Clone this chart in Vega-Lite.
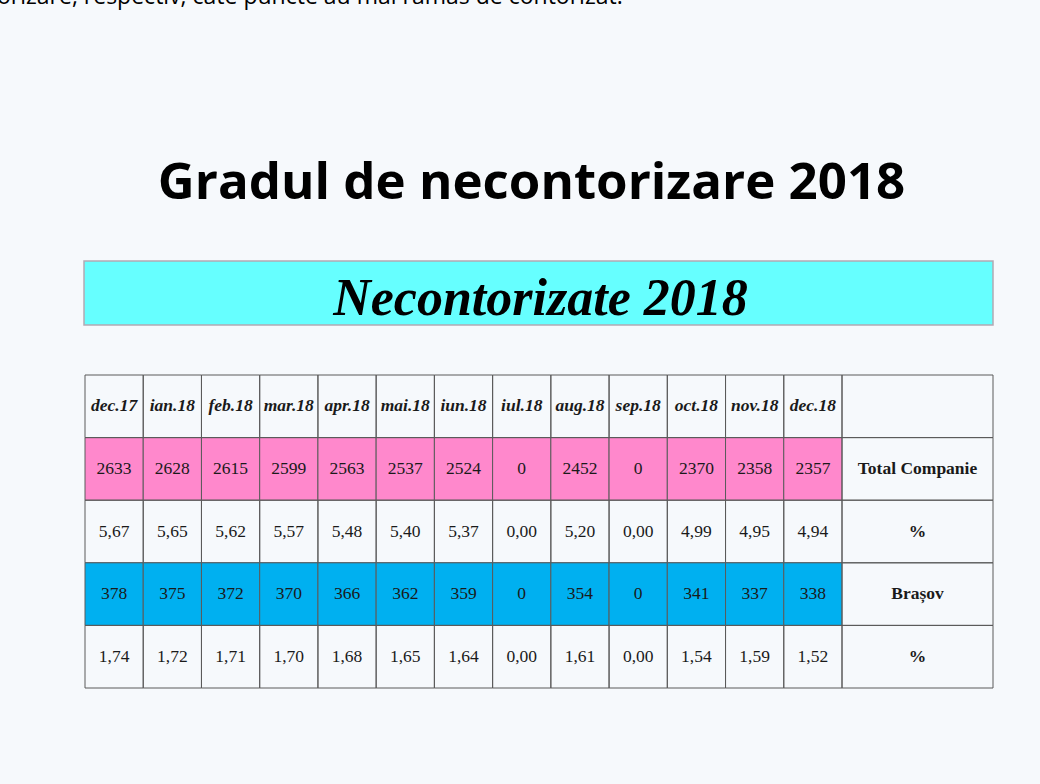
{
  "$schema": "https://vega.github.io/schema/vega-lite/v6.json",
  "width": 1040,
  "height": 784,
  "padding": 0,
  "autosize": {"type": "none"},
  "background": "#f6f9fc",
  "config": {
    "view": {"stroke": null},
    "locale": {"number": {"decimal": ",", "thousands": ".", "grouping": [3], "currency": ["", ""]}}
  },
  "datasets": {
    "luni": [
      {"luna": "dec.17", "Total": 2633, "Pct1": 5.67, "Brasov": 378, "Pct2": 1.74},
      {"luna": "ian.18", "Total": 2628, "Pct1": 5.65, "Brasov": 375, "Pct2": 1.72},
      {"luna": "feb.18", "Total": 2615, "Pct1": 5.62, "Brasov": 372, "Pct2": 1.71},
      {"luna": "mar.18", "Total": 2599, "Pct1": 5.57, "Brasov": 370, "Pct2": 1.70},
      {"luna": "apr.18", "Total": 2563, "Pct1": 5.48, "Brasov": 366, "Pct2": 1.68},
      {"luna": "mai.18", "Total": 2537, "Pct1": 5.40, "Brasov": 362, "Pct2": 1.65},
      {"luna": "iun.18", "Total": 2524, "Pct1": 5.37, "Brasov": 359, "Pct2": 1.64},
      {"luna": "iul.18", "Total": 0, "Pct1": 0.00, "Brasov": 0, "Pct2": 0.00},
      {"luna": "aug.18", "Total": 2452, "Pct1": 5.20, "Brasov": 354, "Pct2": 1.61},
      {"luna": "sep.18", "Total": 0, "Pct1": 0.00, "Brasov": 0, "Pct2": 0.00},
      {"luna": "oct.18", "Total": 2370, "Pct1": 4.99, "Brasov": 341, "Pct2": 1.54},
      {"luna": "nov.18", "Total": 2358, "Pct1": 4.95, "Brasov": 337, "Pct2": 1.59},
      {"luna": "dec.18", "Total": 2357, "Pct1": 4.94, "Brasov": 338, "Pct2": 1.52}
    ],
    "etichete": [
      {"rand": "header", "eticheta": ""},
      {"rand": "Total", "eticheta": "Total Companie"},
      {"rand": "Pct1", "eticheta": "%"},
      {"rand": "Brasov", "eticheta": "Brașov"},
      {"rand": "Pct2", "eticheta": "%"}
    ],
    "texte": [
      {"rol": "caption", "text": "orizare, respectiv, câte puncte au mai rămas de contorizat."},
      {"rol": "titlu", "text": "Gradul de necontorizare 2018"},
      {"rol": "banner", "text": "Necontorizate 2018"}
    ]
  },
  "resolve": {"scale": {"x": "independent", "y": "independent", "fill": "independent"}},
  "layer": [
    {
      "data": {"name": "luni"},
      "transform": [{"fold": ["Total", "Pct1", "Brasov", "Pct2"], "as": ["rand", "valoare"]}],
      "mark": {"type": "rect", "stroke": "#5a5a5a", "strokeWidth": 1},
      "encoding": {
        "x": {"field": "luna", "type": "nominal", "sort": null, "axis": null,
              "scale": {"type": "band", "domain": ["dec.17","ian.18","feb.18","mar.18","apr.18","mai.18","iun.18","iul.18","aug.18","sep.18","oct.18","nov.18","dec.18"], "range": [85, 842], "paddingInner": 0, "paddingOuter": 0}},
        "y": {"field": "rand", "type": "nominal", "axis": null,
              "scale": {"type": "band", "domain": ["header","Total","Pct1","Brasov","Pct2"], "range": [375, 688], "paddingInner": 0, "paddingOuter": 0}},
        "fill": {"field": "rand", "type": "nominal", "legend": null,
                 "scale": {"domain": ["Total","Pct1","Brasov","Pct2"], "range": ["#ff88cc","transparent","#00b0f0","transparent"]}}
      }
    },
    {
      "data": {"name": "luni"},
      "mark": {"type": "rect", "fill": "transparent", "stroke": "#5a5a5a", "strokeWidth": 1},
      "encoding": {
        "x": {"field": "luna", "type": "nominal", "sort": null, "axis": null,
              "scale": {"type": "band", "domain": ["dec.17","ian.18","feb.18","mar.18","apr.18","mai.18","iun.18","iul.18","aug.18","sep.18","oct.18","nov.18","dec.18"], "range": [85, 842], "paddingInner": 0, "paddingOuter": 0}},
        "y": {"datum": "header", "type": "nominal", "axis": null,
              "scale": {"type": "band", "domain": ["header","Total","Pct1","Brasov","Pct2"], "range": [375, 688], "paddingInner": 0, "paddingOuter": 0}}
      }
    },
    {
      "data": {"name": "luni"},
      "mark": {"type": "text", "font": "Liberation Serif", "fontStyle": "italic", "fontWeight": "bold", "fontSize": 17.5, "color": "#1a1a1a", "baseline": "middle", "align": "center"},
      "encoding": {
        "x": {"field": "luna", "type": "nominal", "sort": null, "axis": null,
              "scale": {"type": "band", "domain": ["dec.17","ian.18","feb.18","mar.18","apr.18","mai.18","iun.18","iul.18","aug.18","sep.18","oct.18","nov.18","dec.18"], "range": [85, 842], "paddingInner": 0, "paddingOuter": 0}},
        "y": {"datum": "header", "type": "nominal", "axis": null,
              "scale": {"type": "band", "domain": ["header","Total","Pct1","Brasov","Pct2"], "range": [375, 688], "paddingInner": 0, "paddingOuter": 0}},
        "text": {"field": "luna", "type": "nominal"}
      }
    },
    {
      "data": {"name": "luni"},
      "transform": [
        {"fold": ["Total", "Brasov"], "as": ["rand", "valoare"]}
      ],
      "mark": {"type": "text", "font": "Liberation Serif", "fontSize": 17.5, "color": "#1a1a1a", "baseline": "middle", "align": "center"},
      "encoding": {
        "x": {"field": "luna", "type": "nominal", "sort": null, "axis": null,
              "scale": {"type": "band", "domain": ["dec.17","ian.18","feb.18","mar.18","apr.18","mai.18","iun.18","iul.18","aug.18","sep.18","oct.18","nov.18","dec.18"], "range": [85, 842], "paddingInner": 0, "paddingOuter": 0}},
        "y": {"field": "rand", "type": "nominal", "axis": null,
              "scale": {"type": "band", "domain": ["header","Total","Pct1","Brasov","Pct2"], "range": [375, 688], "paddingInner": 0, "paddingOuter": 0}},
        "text": {"field": "valoare", "type": "quantitative", "format": "d"}
      }
    },
    {
      "data": {"name": "luni"},
      "transform": [
        {"fold": ["Pct1", "Pct2"], "as": ["rand", "valoare"]}
      ],
      "mark": {"type": "text", "font": "Liberation Serif", "fontSize": 17.5, "color": "#1a1a1a", "baseline": "middle", "align": "center"},
      "encoding": {
        "x": {"field": "luna", "type": "nominal", "sort": null, "axis": null,
              "scale": {"type": "band", "domain": ["dec.17","ian.18","feb.18","mar.18","apr.18","mai.18","iun.18","iul.18","aug.18","sep.18","oct.18","nov.18","dec.18"], "range": [85, 842], "paddingInner": 0, "paddingOuter": 0}},
        "y": {"field": "rand", "type": "nominal", "axis": null,
              "scale": {"type": "band", "domain": ["header","Total","Pct1","Brasov","Pct2"], "range": [375, 688], "paddingInner": 0, "paddingOuter": 0}},
        "text": {"field": "valoare", "type": "quantitative", "format": ".2f"}
      }
    },
    {
      "data": {"name": "etichete"},
      "mark": {"type": "rect", "fill": "transparent", "stroke": "#5a5a5a", "strokeWidth": 1},
      "encoding": {
        "x": {"datum": "L", "type": "nominal", "axis": null,
              "scale": {"type": "band", "domain": ["L"], "range": [842, 993], "paddingInner": 0, "paddingOuter": 0}},
        "y": {"field": "rand", "type": "nominal", "axis": null,
              "scale": {"type": "band", "domain": ["header","Total","Pct1","Brasov","Pct2"], "range": [375, 688], "paddingInner": 0, "paddingOuter": 0}}
      }
    },
    {
      "data": {"name": "etichete"},
      "mark": {"type": "text", "font": "Liberation Serif", "fontWeight": "bold", "fontSize": 17.5, "color": "#1a1a1a", "baseline": "middle", "align": "center"},
      "encoding": {
        "x": {"datum": "L", "type": "nominal", "axis": null,
              "scale": {"type": "band", "domain": ["L"], "range": [842, 993], "paddingInner": 0, "paddingOuter": 0}},
        "y": {"field": "rand", "type": "nominal", "axis": null,
              "scale": {"type": "band", "domain": ["header","Total","Pct1","Brasov","Pct2"], "range": [375, 688], "paddingInner": 0, "paddingOuter": 0}},
        "text": {"field": "eticheta", "type": "nominal"}
      }
    },
    {
      "data": {"name": "texte"},
      "transform": [{"filter": "datum.rol === 'banner'"}],
      "mark": {"type": "rect", "fill": "#66ffff", "stroke": "#b3a9b3", "strokeWidth": 1.5},
      "encoding": {
        "x": {"datum": "B", "type": "nominal", "axis": null,
              "scale": {"type": "band", "domain": ["B"], "range": [84, 993], "paddingInner": 0, "paddingOuter": 0}},
        "y": {"datum": "B", "type": "nominal", "axis": null,
              "scale": {"type": "band", "domain": ["B"], "range": [261, 325], "paddingInner": 0, "paddingOuter": 0}}
      }
    },
    {
      "data": {"name": "texte"},
      "transform": [{"filter": "datum.rol === 'banner'"}],
      "mark": {"type": "text", "font": "Liberation Serif", "fontStyle": "italic", "fontWeight": "bold", "fontSize": 52, "color": "#000000", "baseline": "alphabetic", "align": "center"},
      "encoding": {
        "x": {"datum": "B", "type": "nominal", "axis": null,
              "scale": {"type": "band", "domain": ["B"], "range": [333, 748], "paddingInner": 0, "paddingOuter": 0}},
        "y": {"datum": "B", "type": "nominal", "axis": null,
              "scale": {"type": "band", "domain": ["B"], "range": [315, 315], "paddingInner": 0, "paddingOuter": 0}},
        "text": {"field": "text", "type": "nominal"}
      }
    },
    {
      "data": {"name": "texte"},
      "transform": [{"filter": "datum.rol === 'titlu'"}],
      "mark": {"type": "text", "font": "Open Sans", "fontWeight": "bold", "fontSize": 51, "color": "#000000", "baseline": "alphabetic", "align": "center"},
      "encoding": {
        "x": {"datum": "T", "type": "nominal", "axis": null,
              "scale": {"type": "band", "domain": ["T"], "range": [145, 918], "paddingInner": 0, "paddingOuter": 0}},
        "y": {"datum": "T", "type": "nominal", "axis": null,
              "scale": {"type": "band", "domain": ["T"], "range": [199, 199], "paddingInner": 0, "paddingOuter": 0}},
        "text": {"field": "text", "type": "nominal"}
      }
    },
    {
      "data": {"name": "texte"},
      "transform": [{"filter": "datum.rol === 'caption'"}],
      "mark": {"type": "text", "font": "Open Sans", "fontSize": 23, "color": "#000000", "baseline": "alphabetic", "align": "left"},
      "encoding": {
        "x": {"datum": "C", "type": "nominal", "axis": null,
              "scale": {"type": "band", "domain": ["C"], "range": [-3, -3], "paddingInner": 0, "paddingOuter": 0}},
        "y": {"datum": "C", "type": "nominal", "axis": null,
              "scale": {"type": "band", "domain": ["C"], "range": [4, 4], "paddingInner": 0, "paddingOuter": 0}},
        "text": {"field": "text", "type": "nominal"}
      }
    }
  ]
}
